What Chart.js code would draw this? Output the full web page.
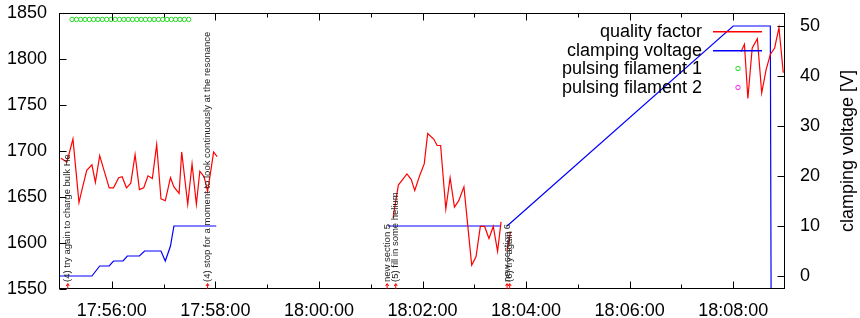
<!DOCTYPE html>
<html>
<head>
<meta charset="utf-8">
<script src="https://cdn.jsdelivr.net/npm/chart.js@4.4.0/dist/chart.umd.min.js"></script>
<style>
  html, body { margin: 0; padding: 0; background: #fff; }
</style>
</head>
<body>
<canvas id="chart" width="860" height="318"></canvas>
<script>
// x range and ticks (clock time)
const xRange = ['17:55:00', '18:09:00'];
const xTickLabels = ['17:56:00', '17:58:00', '18:00:00', '18:02:00', '18:04:00', '18:06:00', '18:08:00'];
const xMinorTicks = ['17:57:00', '17:59:00', '18:01:00', '18:03:00', '18:05:00', '18:07:00'];
const yRange = [1550, 1850];
const yTicks = [1550, 1600, 1650, 1700, 1750, 1800, 1850];
const y2Range = [-2.6, 52.6];
const y2Ticks = [0, 10, 20, 30, 40, 50];

// quality factor, null = break between sections
const qualityTime = [
  '17:55:01', '17:55:08', '17:55:15', '17:55:22', '17:55:25', '17:55:31', '17:55:37', '17:55:41', '17:55:46', '17:55:51',
  '17:55:57', '17:56:02', '17:56:08', '17:56:12', '17:56:17', '17:56:22', '17:56:27', '17:56:32', '17:56:37', '17:56:42',
  '17:56:47', '17:56:52', '17:56:57', '17:57:02', '17:57:08', '17:57:12', '17:57:18', '17:57:21', '17:57:28', '17:57:33',
  '17:57:38', '17:57:42', '17:57:47', '17:57:51', '17:57:54', '17:57:58', '17:58:02',
  '18:00:00',
  '18:01:26', '18:01:27', '18:01:32', '18:01:42', '18:01:47', '18:01:51', '18:01:57', '18:02:02', '18:02:06', '18:02:13',
  '18:02:17', '18:02:21', '18:02:27', '18:02:32', '18:02:37', '18:02:42', '18:02:48', '18:02:57', '18:03:02', '18:03:07',
  '18:03:12', '18:03:17', '18:03:22', '18:03:27', '18:03:31',
  '18:03:35',
  '18:03:38', '18:03:42',
  '18:06:00',
  '18:08:09', '18:08:13', '18:08:17', '18:08:22', '18:08:28', '18:08:33', '18:08:38', '18:08:43', '18:08:48', '18:08:53',
  '18:08:58'
];
const qualityFactor = [
  1692, 1688, 1713, 1644, 1656, 1679, 1685, 1666, 1695, 1679,
  1660, 1660, 1671, 1672, 1660, 1665, 1696, 1658, 1660, 1673,
  1670, 1707, 1648, 1646, 1671, 1661, 1654, 1699, 1642, 1686,
  1642, 1678, 1672, 1656, 1674, 1699, 1694,
  null,
  1627, 1634, 1663, 1675, 1669, 1657, 1674, 1686, 1719, 1713,
  1706, 1706, 1637, 1671, 1639, 1646, 1661, 1576, 1585, 1618,
  1618, 1605, 1618, 1591, 1623,
  null,
  1592, 1612,
  null,
  1808, 1816, 1757, 1812, 1822, 1763, 1788, 1805, 1812, 1834,
  1785
];

// clamping voltage [V]
const voltageTime = [
  '17:55:00', '17:55:37', '17:55:46', '17:55:57', '17:56:02', '17:56:13', '17:56:18', '17:56:32', '17:56:38', '17:56:57',
  '17:57:02', '17:57:08', '17:57:12', '17:58:01',
  '18:00:00',
  '18:01:20', '18:03:31',
  '18:03:35',
  '18:03:38', '18:08:00', '18:08:43', '18:08:44'
];
const clampingVoltage = [
  0, 0, 2, 2, 3, 3, 4, 4, 5, 5,
  3, 6, 10, 10,
  null,
  10, 10,
  null,
  10, 50, 50, -10
];

// pulsing filament markers
const pulse1Time = [
  '17:55:14', '17:55:19', '17:55:24', '17:55:29', '17:55:34', '17:55:39', '17:55:44', '17:55:49', '17:55:54', '17:55:59',
  '17:56:04', '17:56:09', '17:56:14', '17:56:19', '17:56:24', '17:56:29', '17:56:34', '17:56:39', '17:56:44', '17:56:49',
  '17:56:54', '17:56:59', '17:57:04', '17:57:09', '17:57:14', '17:57:19', '17:57:24', '17:57:29'
];
const pulse1Level = 1843;
const pulse2Time = [];

// log annotations
const noteTime = ['17:55:09', '17:57:51', '18:01:19', '18:01:29', '18:03:38', '18:03:41'];
const noteText = [
  '(4) try again to charge bulk He',
  '(4) stop for a moment to look continuously at the resonance',
  'new section 5',
  '(5) fill in some helium',
  'new section 6',
  '(6) try again'
];

function toSec(t) {
  const p = t.split(':').map(Number);
  return p[0] * 3600 + p[1] * 60 + p[2];
}
function fmt(s) {
  const h = Math.floor(s / 3600), m = Math.floor((s % 3600) / 60), sec = Math.round(s % 60);
  return [h, m, sec].map(v => String(v).padStart(2, '0')).join(':');
}
function pts(times, vals) {
  return times.map((t, i) => ({ x: toSec(t), y: vals[i] }));
}

const FONT = 'Liberation Sans, Arial, sans-serif';
Chart.defaults.font.family = FONT;
Chart.defaults.font.size = 18;
Chart.defaults.color = '#000';

const keyColors = ['#ff0000', '#0000ff', '#22dd22', '#ff22ff'];

const framePlugin = {
  id: 'frame',
  afterDraw(chart) {
    const { ctx, chartArea: a, scales } = chart;
    const L = Math.round(a.left) - 0.5, R = Math.round(a.right) - 0.5;
    const T = Math.round(a.top) + 0.5, B = Math.round(a.bottom) - 0.5;
    ctx.save();
    ctx.strokeStyle = '#000';
    ctx.lineWidth = 1;
    ctx.strokeRect(L, T, R - L, B - T);
    ctx.beginPath();
    xTickLabels.forEach(t => {
      const x = Math.round(scales.x.getPixelForValue(toSec(t))) + 0.5;
      ctx.moveTo(x, B); ctx.lineTo(x, B - 7);
      ctx.moveTo(x, T); ctx.lineTo(x, T + 7);
    });
    xMinorTicks.forEach(t => {
      const x = Math.round(scales.x.getPixelForValue(toSec(t))) + 0.5;
      ctx.moveTo(x, B); ctx.lineTo(x, B - 4);
      ctx.moveTo(x, T); ctx.lineTo(x, T + 4);
    });
    yTicks.forEach(v => {
      const y = Math.round(scales.y.getPixelForValue(v)) + 0.5;
      ctx.moveTo(L, y); ctx.lineTo(L + 7, y);
    });
    y2Ticks.forEach(v => {
      const y = Math.round(scales.y2.getPixelForValue(v)) + 0.5;
      ctx.moveTo(R, y); ctx.lineTo(R - 7, y);
    });
    ctx.stroke();

    // annotations
    noteTime.forEach((t, i) => {
      const x = scales.x.getPixelForValue(toSec(t));
      ctx.strokeStyle = '#ff0000';
      ctx.beginPath();
      ctx.moveTo(x, a.bottom); ctx.lineTo(x, a.bottom - 5);
      ctx.moveTo(x - 1.5, a.bottom - 3); ctx.lineTo(x, a.bottom - 5.5); ctx.lineTo(x + 1.5, a.bottom - 3);
      ctx.stroke();
      ctx.save();
      ctx.translate(x, a.bottom - 7);
      ctx.rotate(-Math.PI / 2);
      ctx.fillStyle = '#222';
      ctx.font = '9.5px ' + FONT;
      ctx.textAlign = 'left';
      ctx.textBaseline = 'middle';
      ctx.fillText(noteText[i], 0, 0);
      ctx.restore();
    });

    // right axis title
    ctx.save();
    ctx.translate(848, (a.top + a.bottom) / 2);
    ctx.rotate(-Math.PI / 2);
    ctx.fillStyle = '#000';
    ctx.font = '18px ' + FONT;
    ctx.textAlign = 'center';
    ctx.textBaseline = 'middle';
    ctx.fillText('clamping voltage [V]', 0, 0);
    ctx.restore();

    // key
    const rows = [31, 50, 68, 87];
    ctx.font = '18px ' + FONT;
    ctx.textAlign = 'right';
    ctx.textBaseline = 'middle';
    chart.data.datasets.forEach((ds, i) => {
      const y = rows[i];
      ctx.fillStyle = '#000';
      ctx.fillText(ds.label, 702, y + 1);
      ctx.lineWidth = 1;
      if (ds.showLine === false) {
        ctx.strokeStyle = keyColors[i];
        ctx.beginPath();
        ctx.arc(738, y + 0.5, 2.2, 0, Math.PI * 2);
        ctx.stroke();
      } else {
        ctx.fillStyle = keyColors[i];
        ctx.fillRect(713, y, 49, 1.5);
      }
    });
    ctx.restore();
  }
};

const noPad = s => { s.paddingTop = 0; s.paddingBottom = 0; s.paddingLeft = 0; s.paddingRight = 0; };

new Chart(document.getElementById('chart'), {
  type: 'line',
  data: {
    datasets: [
      {
        label: 'quality factor',
        data: pts(qualityTime, qualityFactor),
        borderColor: keyColors[0],
        borderWidth: 1.2,
        pointRadius: 0,
        spanGaps: false,
        yAxisID: 'y'
      },
      {
        label: 'clamping voltage',
        data: pts(voltageTime, clampingVoltage),
        borderColor: keyColors[1],
        borderWidth: 1.2,
        pointRadius: 0,
        spanGaps: false,
        yAxisID: 'y2'
      },
      {
        label: 'pulsing filament 1',
        data: pulse1Time.map(t => ({ x: toSec(t), y: pulse1Level })),
        showLine: false,
        pointRadius: 2.2,
        pointBorderWidth: 1,
        pointBorderColor: keyColors[2],
        pointBackgroundColor: 'rgba(0,0,0,0)',
        yAxisID: 'y'
      },
      {
        label: 'pulsing filament 2',
        data: pulse2Time.map(t => ({ x: toSec(t), y: pulse1Level })),
        showLine: false,
        pointRadius: 2.2,
        pointBorderWidth: 1,
        pointBorderColor: keyColors[3],
        pointBackgroundColor: 'rgba(0,0,0,0)',
        yAxisID: 'y'
      }
    ]
  },
  options: {
    responsive: false,
    animation: false,
    devicePixelRatio: 1,
    layout: { padding: { top: 13, left: 0, right: 0, bottom: 0 } },
    plugins: { legend: { display: false }, tooltip: { enabled: false } },
    scales: {
      x: {
        type: 'linear',
        min: toSec(xRange[0]),
        max: toSec(xRange[1]),
        grid: { display: false, drawTicks: false },
        border: { display: false },
        ticks: { padding: 11, maxRotation: 0, autoSkip: false, callback: v => fmt(v) },
        afterBuildTicks: s => { s.ticks = xTickLabels.map(t => ({ value: toSec(t) })); },
        afterFit: s => { s.height = 29; noPad(s); }
      },
      y: {
        position: 'left',
        min: yRange[0],
        max: yRange[1],
        grid: { display: false, drawTicks: false },
        border: { display: false },
        ticks: { padding: 13, callback: v => String(v) },
        afterBuildTicks: s => { s.ticks = yTicks.map(v => ({ value: v })); },
        afterFit: s => { s.width = 60; noPad(s); }
      },
      y2: {
        position: 'right',
        min: y2Range[0],
        max: y2Range[1],
        grid: { display: false, drawTicks: false },
        border: { display: false },
        ticks: { padding: 15, callback: v => String(v) },
        afterBuildTicks: s => { s.ticks = y2Ticks.map(v => ({ value: v })); },
        afterFit: s => { s.width = 75; noPad(s); }
      }
    }
  },
  plugins: [framePlugin]
});
</script>
</body>
</html>
